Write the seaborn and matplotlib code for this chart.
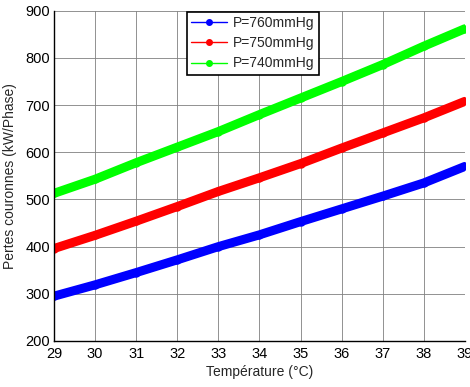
import numpy as np
import pandas as pd
import matplotlib
matplotlib.use('Agg')
import matplotlib.pyplot as plt
from matplotlib.lines import Line2D
import seaborn as sns

temperature = [29, 30, 31, 32, 33, 34, 35, 36, 37, 38, 39]
p760 = [295, 319, 345, 372, 400, 425, 453, 480, 507, 535, 570]
p750 = [396, 424, 454, 485, 517, 546, 576, 609, 641, 673, 708]
p740 = [513, 543, 578, 611, 644, 680, 715, 750, 786, 825, 862]
labels = ['P=760mmHg', 'P=750mmHg', 'P=740mmHg']
colors = ['#0000ff', '#ff0000', '#00ff00']

df = pd.concat([
    pd.DataFrame({'T': temperature, 'P': vals, 'serie': lab})
    for vals, lab in zip([p760, p750, p740], labels)
])

sns.set_theme(style='white')
plt.rcParams['font.family'] = ['Liberation Sans', 'DejaVu Sans']

fig = plt.figure(figsize=(4.7, 3.87), dpi=100)
ax = fig.add_axes([0.115, 0.119, 0.874, 0.853])

sns.lineplot(data=df, x='T', y='P', hue='serie', palette=dict(zip(labels, colors)),
             linewidth=6.5, marker='o', markersize=6, markeredgewidth=0,
             solid_capstyle='round', solid_joinstyle='round', legend=False, ax=ax)

ax.set_xlim(29, 39)
ax.set_ylim(200, 900)
ax.set_xticks(range(29, 40))
ax.set_yticks(range(200, 901, 100))
ax.grid(True, color='0.5', linewidth=0.6, linestyle='-')
ax.tick_params(direction='in', length=4, width=0.8, labelsize=10.5, colors='black',
               pad=3)
ax.tick_params(axis='x', pad=4)
for s in ['top', 'right']:
    ax.spines[s].set_visible(False)
for s in ['left', 'bottom']:
    ax.spines[s].set_color('black')
    ax.spines[s].set_linewidth(1.0)
ax.set_xlabel('Température (°C)', fontsize=10, labelpad=3)
ax.set_ylabel('Pertes couronnes (kW/Phase)', fontsize=10, labelpad=6)

handles = [Line2D([0], [0], color=c, lw=1, marker='o', markersize=4) for c in colors]
leg = ax.legend(handles, labels, loc='upper left', bbox_to_anchor=(0.324, 0.997),
                frameon=True, fancybox=False, framealpha=1, edgecolor='black',
                fontsize=10, handlelength=2.6, borderpad=0.3, labelspacing=0.45,
                handletextpad=0.4, borderaxespad=0)
leg.get_frame().set_linewidth(1.2)

fig.savefig('out.png', dpi=100)
